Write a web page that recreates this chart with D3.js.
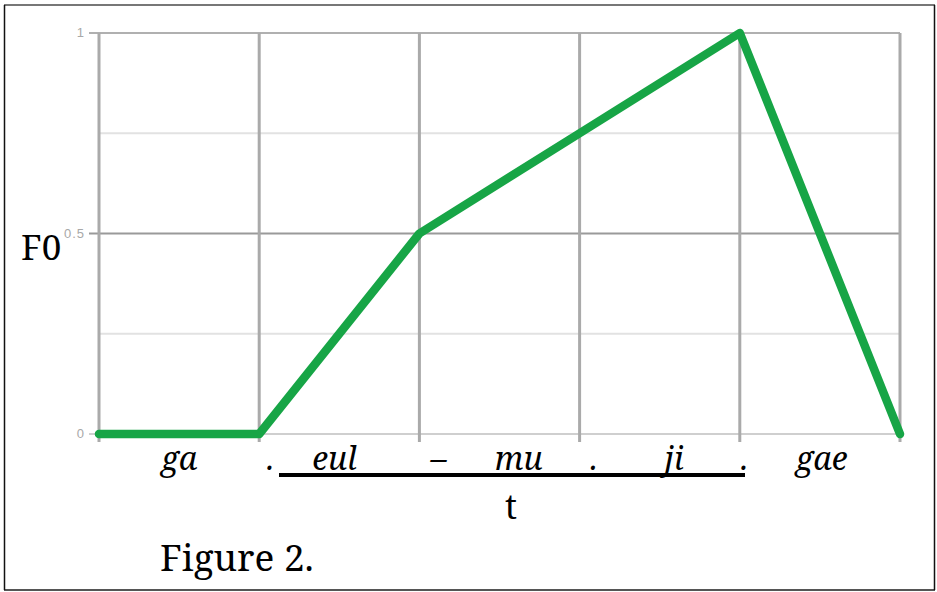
<!DOCTYPE html>
<html>
<head>
<meta charset="utf-8">
<script src="https://cdn.jsdelivr.net/npm/d3@7"></script>
<style>
  body { margin: 0; background: #fff; }
  svg { display: block; }
</style>
</head>
<body>
<svg width="937" height="592"></svg>
<script>
// syllable positions along t, and the F0 contour at each one
let positions = [0, 1, 2, 3, 4, 5];
let f0 = [0, 0, 0.5, 0.75, 1, 0];
let yTicks = [0, 0.5, 1];
let yMinor = [0.25, 0.75];
let syllables = [
    { pos: 0.5, text: "ga" },
    { pos: 1.07, text: "." },
    { pos: 1.47, text: "eul" },
    { pos: 2.12, text: "–" },
    { pos: 2.62, text: "mu" },
    { pos: 3.09, text: "." },
    { pos: 3.59, text: "ji" },
    { pos: 4.03, text: "." },
    { pos: 4.51, text: "gae" }
];

let svg = d3.select("svg"),
    width = +svg.attr("width"),
    height = +svg.attr("height");

// page frame
svg.append("line").attr("x1", 4).attr("x2", 935).attr("y1", 5).attr("y2", 5)
    .attr("stroke", "#777").attr("stroke-width", 2);
svg.append("line").attr("x1", 4).attr("x2", 935).attr("y1", 590).attr("y2", 590)
    .attr("stroke", "#555").attr("stroke-width", 2);
svg.append("line").attr("x1", 4.5).attr("x2", 4.5).attr("y1", 5).attr("y2", 590)
    .attr("stroke", "#111").attr("stroke-width", 1.5);
svg.append("line").attr("x1", 934.5).attr("x2", 934.5).attr("y1", 5).attr("y2", 590)
    .attr("stroke", "#111").attr("stroke-width", 1.5);

let x = d3.scaleLinear().domain([0, 5]).range([99, 900]);
let y = d3.scaleLinear().domain([0, 1]).range([434, 33]);

let g = svg.append("g");

// minor horizontal grid
g.selectAll("line.minor")
    .data(yMinor)
    .enter().append("line")
    .attr("class", "minor")
    .attr("x1", x(0)).attr("x2", x(5))
    .attr("y1", d => y(d)).attr("y2", d => y(d))
    .attr("stroke", "#e2e2e2").attr("stroke-width", 2);

// major horizontal grid
g.selectAll("line.major")
    .data(yTicks)
    .enter().append("line")
    .attr("class", "major")
    .attr("x1", x(0) - 10).attr("x2", x(5))
    .attr("y1", d => y(d)).attr("y2", d => y(d))
    .attr("stroke", d => d === 0 ? "#cfcfcf" : (d === 1 ? "#b0b0b0" : "#9a9a9a"))
    .attr("stroke-width", 2);

// vertical grid
g.selectAll("line.vert")
    .data(positions)
    .enter().append("line")
    .attr("class", "vert")
    .attr("x1", d => x(d)).attr("x2", d => x(d))
    .attr("y1", y(1)).attr("y2", y(0) + 8)
    .attr("stroke", "#aaa").attr("stroke-width", 3);

// y tick labels
g.selectAll("text.tick")
    .data(yTicks)
    .enter().append("text")
    .attr("class", "tick")
    .attr("x", x(0) - 14)
    .attr("y", d => y(d) + 4)
    .attr("text-anchor", "end")
    .attr("font-family", "Liberation Sans")
    .attr("font-size", 13)
    .attr("letter-spacing", 1)
    .attr("fill", "#a8a8a8")
    .text(d => d);

// F0 contour
let line = d3.line()
    .x((d, i) => x(positions[i]))
    .y(d => y(d));

g.append("path")
    .datum(f0)
    .attr("d", line)
    .attr("fill", "none")
    .attr("stroke", "#17a546")
    .attr("stroke-width", 8.5)
    .attr("stroke-linejoin", "round")
    .attr("stroke-linecap", "round");

// axis title
svg.append("text")
    .attr("x", 21).attr("y", 260)
    .attr("font-family", "Noto Serif, DejaVu Serif, serif")
    .attr("font-size", 35)
    .attr("fill", "#000")
    .text("F0");

// syllable labels
svg.selectAll("text.syl")
    .data(syllables)
    .enter().append("text")
    .attr("class", "syl")
    .attr("x", d => x(d.pos))
    .attr("y", 470)
    .attr("text-anchor", "middle")
    .attr("font-family", "Noto Serif, DejaVu Serif, serif")
    .attr("font-style", "italic")
    .attr("font-size", 32)
    .attr("fill", "#000")
    .text(d => d.text);

// underline beneath the word
svg.append("line")
    .attr("x1", 279).attr("x2", 745)
    .attr("y1", 475).attr("y2", 475)
    .attr("stroke", "#000").attr("stroke-width", 4);

svg.append("text")
    .attr("x", 511).attr("y", 519)
    .attr("text-anchor", "middle")
    .attr("font-family", "Noto Serif, DejaVu Serif, serif")
    .attr("font-size", 34)
    .attr("fill", "#000")
    .text("t");

svg.append("text")
    .attr("x", 160).attr("y", 571)
    .attr("font-family", "Noto Serif, DejaVu Serif, serif")
    .attr("font-size", 37)
    .attr("fill", "#000")
    .text("Figure 2.");
</script>
</body>
</html>
